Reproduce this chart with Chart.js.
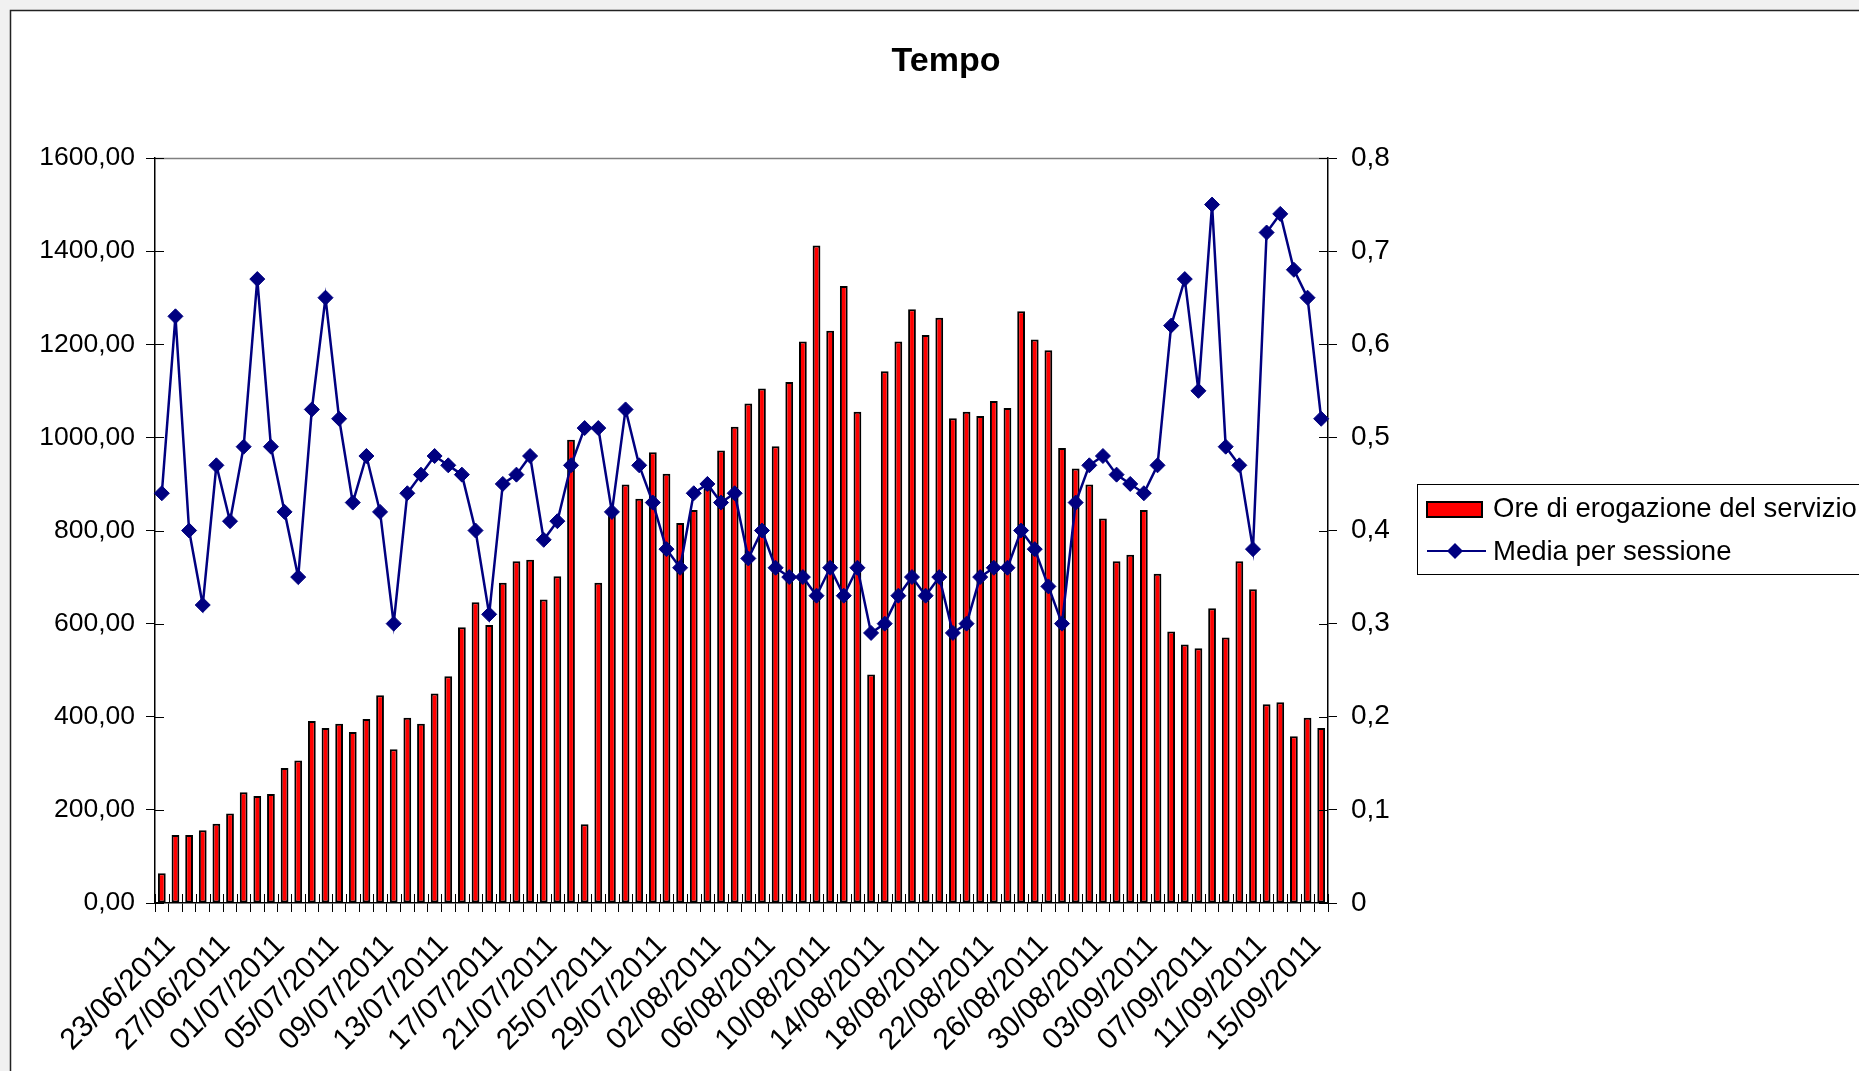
<!DOCTYPE html>
<html lang="it">
<head>
  <meta charset="utf-8" />
  <title>Tempo</title>
  <style>
    * {
      margin: 0;
      padding: 0;
      box-sizing: border-box;
    }

    body {
      width: 1859px;
      height: 1071px;
      background: #ffffff;
      overflow: hidden;
    }

    #chart {
      display: block;
    }
  </style>
</head>
<body>
  <canvas id="chart" width="1859" height="1071"></canvas>

  <script src="https://cdn.jsdelivr.net/npm/chart.js@4.4.0/dist/chart.umd.min.js"></script>
  <script>
    // Categories: one per day, 23/06/2011 -> 16/09/2011
    const days = [
      "23/06/2011", "24/06/2011", "25/06/2011", "26/06/2011", "27/06/2011", "28/06/2011", "29/06/2011", "30/06/2011",
      "01/07/2011", "02/07/2011", "03/07/2011", "04/07/2011", "05/07/2011", "06/07/2011", "07/07/2011", "08/07/2011",
      "09/07/2011", "10/07/2011", "11/07/2011", "12/07/2011", "13/07/2011", "14/07/2011", "15/07/2011", "16/07/2011",
      "17/07/2011", "18/07/2011", "19/07/2011", "20/07/2011", "21/07/2011", "22/07/2011", "23/07/2011", "24/07/2011",
      "25/07/2011", "26/07/2011", "27/07/2011", "28/07/2011", "29/07/2011", "30/07/2011", "31/07/2011",
      "01/08/2011", "02/08/2011", "03/08/2011", "04/08/2011", "05/08/2011", "06/08/2011", "07/08/2011", "08/08/2011",
      "09/08/2011", "10/08/2011", "11/08/2011", "12/08/2011", "13/08/2011", "14/08/2011", "15/08/2011", "16/08/2011",
      "17/08/2011", "18/08/2011", "19/08/2011", "20/08/2011", "21/08/2011", "22/08/2011", "23/08/2011", "24/08/2011",
      "25/08/2011", "26/08/2011", "27/08/2011", "28/08/2011", "29/08/2011", "30/08/2011", "31/08/2011",
      "01/09/2011", "02/09/2011", "03/09/2011", "04/09/2011", "05/09/2011", "06/09/2011", "07/09/2011", "08/09/2011",
      "09/09/2011", "10/09/2011", "11/09/2011", "12/09/2011", "13/09/2011", "14/09/2011", "15/09/2011", "16/09/2011"
    ];

    // Ore di erogazione del servizio (left axis)
    const ore = [
      64, 146, 146, 156, 170, 192, 238, 230, 234, 290, 306, 391, 376, 385, 367, 395,
      446, 330, 398, 385, 450, 487, 592, 646, 597, 688, 734, 737, 652, 702, 995, 169,
      688, 840, 899, 868, 968, 922, 816, 844, 890, 972, 1023, 1073, 1105, 981, 1119, 1206,
      1412, 1229, 1325, 1055, 491, 1142, 1206, 1275, 1220, 1257, 1041, 1055, 1046, 1078, 1063, 1271,
      1210, 1187, 977, 933, 899, 826, 734, 748, 844, 707, 583, 555, 547, 633, 570, 734,
      674, 427, 431, 358, 398, 376
    ];

    // Media per sessione (right axis)
    const media = [
      0.44, 0.63, 0.40, 0.32, 0.47, 0.41, 0.49, 0.67, 0.49, 0.42, 0.35, 0.53, 0.65, 0.52, 0.43, 0.48,
      0.42, 0.30, 0.44, 0.46, 0.48, 0.47, 0.46, 0.40, 0.31, 0.45, 0.46, 0.48, 0.39, 0.41, 0.47, 0.51,
      0.51, 0.42, 0.53, 0.47, 0.43, 0.38, 0.36, 0.44, 0.45, 0.43, 0.44, 0.37, 0.40, 0.36, 0.35, 0.35,
      0.33, 0.36, 0.33, 0.36, 0.29, 0.30, 0.33, 0.35, 0.33, 0.35, 0.29, 0.30, 0.35, 0.36, 0.36, 0.40,
      0.38, 0.34, 0.30, 0.43, 0.47, 0.48, 0.46, 0.45, 0.44, 0.47, 0.62, 0.67, 0.55, 0.75, 0.49, 0.47,
      0.38, 0.72, 0.74, 0.68, 0.65, 0.52
    ];

    const seriesNames = ["Ore di erogazione del servizio", "Media per sessione"];
    const title = "Tempo";

    const FONT = "'Liberation Sans', Arial, sans-serif";
    const RED = "#ff0000";
    const NAVY = "#000080";

    // Excel-like frame: page border, title, plot top line, ticks crossing the axes, legend box
    const excelFrame = {
      id: "excelFrame",
      beforeDraw(chart) {
        const ctx = chart.ctx;
        ctx.save();
        ctx.fillStyle = "#ffffff";
        ctx.fillRect(0, 0, chart.width, chart.height);
        ctx.fillStyle = "#f1f1f1";
        ctx.fillRect(0, 0, 10, chart.height);
        ctx.fillRect(0, 0, chart.width, 10);
        ctx.strokeStyle = "#222222";
        ctx.lineWidth = 1.5;
        ctx.beginPath();
        ctx.moveTo(10.5, chart.height);
        ctx.lineTo(10.5, 10.5);
        ctx.lineTo(chart.width, 10.5);
        ctx.stroke();

        ctx.fillStyle = "#000000";
        ctx.font = "bold 34px " + FONT;
        ctx.textAlign = "center";
        ctx.textBaseline = "middle";
        ctx.fillText(title, 946, 62);
        ctx.restore();
      },
      afterDraw(chart) {
        const { ctx, chartArea: a, scales } = chart;
        ctx.save();

        // top edge of the plot area
        ctx.strokeStyle = "#808080";
        ctx.lineWidth = 1.5;
        ctx.beginPath();
        ctx.moveTo(a.left, a.top + 0.5);
        ctx.lineTo(a.right, a.top + 0.5);
        ctx.stroke();

        // inner halves of the tick marks
        ctx.strokeStyle = "#000000";
        ctx.lineWidth = 1;
        ctx.beginPath();
        scales.y.ticks.forEach((t) => {
          const py = Math.round(scales.y.getPixelForValue(t.value)) + 0.5;
          ctx.moveTo(a.left, py);
          ctx.lineTo(a.left + 9, py);
        });
        scales.y2.ticks.forEach((t) => {
          const py = Math.round(scales.y2.getPixelForValue(t.value)) + 0.5;
          ctx.moveTo(a.right - 9, py);
          ctx.lineTo(a.right, py);
        });
        const step = (scales.x.right - scales.x.left) / days.length;
        for (let i = 0; i <= days.length; i++) {
          const px = Math.round(scales.x.left + i * step) + 0.5;
          ctx.moveTo(px, a.bottom - 9);
          ctx.lineTo(px, a.bottom);
        }
        ctx.stroke();

        // legend
        ctx.strokeStyle = "#000000";
        ctx.lineWidth = 1;
        ctx.strokeRect(1417.5, 484.5, 500, 90);

        ctx.fillStyle = RED;
        ctx.fillRect(1427, 502, 55, 15);
        ctx.lineWidth = 2;
        ctx.strokeRect(1427, 502, 55, 15);

        ctx.strokeStyle = NAVY;
        ctx.lineWidth = 2;
        ctx.beginPath();
        ctx.moveTo(1427, 551);
        ctx.lineTo(1486, 551);
        ctx.stroke();
        ctx.fillStyle = NAVY;
        ctx.beginPath();
        ctx.moveTo(1455, 543);
        ctx.lineTo(1463, 551);
        ctx.lineTo(1455, 559);
        ctx.lineTo(1447, 551);
        ctx.closePath();
        ctx.fill();

        ctx.fillStyle = "#000000";
        ctx.font = "27.5px " + FONT;
        ctx.textAlign = "left";
        ctx.textBaseline = "alphabetic";
        ctx.fillText(seriesNames[0], 1493, 517);
        ctx.fillText(seriesNames[1], 1493, 560);
        ctx.restore();
      },
    };

    const ctx = document.getElementById("chart");

    new Chart(ctx, {
      type: "bar",
      data: {
        labels: days,
        datasets: [
          {
            type: "line",
            label: seriesNames[1],
            data: media,
            yAxisID: "y2",
            order: 1,
            borderColor: NAVY,
            borderWidth: 2.5,
            tension: 0,
            pointStyle: "rectRot",
            pointRadius: 7.5,
            pointBackgroundColor: NAVY,
            pointBorderColor: NAVY,
            pointBorderWidth: 1,
          },
          {
            type: "bar",
            label: seriesNames[0],
            data: ore,
            yAxisID: "y",
            order: 2,
            backgroundColor: RED,
            borderColor: "#000000",
            borderWidth: 2,
            borderSkipped: false,
            barPercentage: 0.57,
            categoryPercentage: 1,
          },
        ],
      },
      options: {
        responsive: false,
        devicePixelRatio: 1,
        animation: false,
        events: [],
        layout: { padding: { top: 158, left: 0, right: 0, bottom: 0 } },
        plugins: {
          legend: { display: false },
          title: { display: false },
          tooltip: { enabled: false },
        },
        scales: {
          x: {
            offset: true,
            grid: { drawOnChartArea: false, offset: true, color: "#000000", tickLength: 9 },
            border: { color: "#000000", width: 1.5 },
            ticks: {
              autoSkip: false,
              maxRotation: 45,
              minRotation: 45,
              padding: 16,
              labelOffset: 9,
              color: "#000000",
              font: { family: FONT, size: 30 },
              callback: function (value, index) {
                return index % 4 === 0 ? this.getLabelForValue(value) : "";
              },
            },
            afterFit: (scale) => {
              scale.height = 168;
            },
          },
          y: {
            position: "left",
            min: 0,
            max: 1600,
            grid: { drawOnChartArea: false, color: "#000000", tickLength: 9 },
            border: { color: "#000000", width: 1.5 },
            ticks: {
              stepSize: 200,
              padding: 11,
              color: "#000000",
              font: { family: FONT, size: 26.5 },
              callback: (v) => v.toFixed(2).replace(".", ","),
            },
            afterFit: (scale) => {
              scale.width = 155;
            },
          },
          y2: {
            position: "right",
            min: 0,
            max: 0.8,
            grid: { drawOnChartArea: false, color: "#000000", tickLength: 9 },
            border: { color: "#000000", width: 1.5 },
            ticks: {
              stepSize: 0.1,
              padding: 14,
              color: "#000000",
              font: { family: FONT, size: 28 },
              callback: (v) => (v === 0 ? "0" : v.toFixed(1).replace(".", ",")),
            },
            afterFit: (scale) => {
              scale.width = 531;
            },
          },
        },
      },
      plugins: [excelFrame],
    });
  </script>
</body>
</html>
